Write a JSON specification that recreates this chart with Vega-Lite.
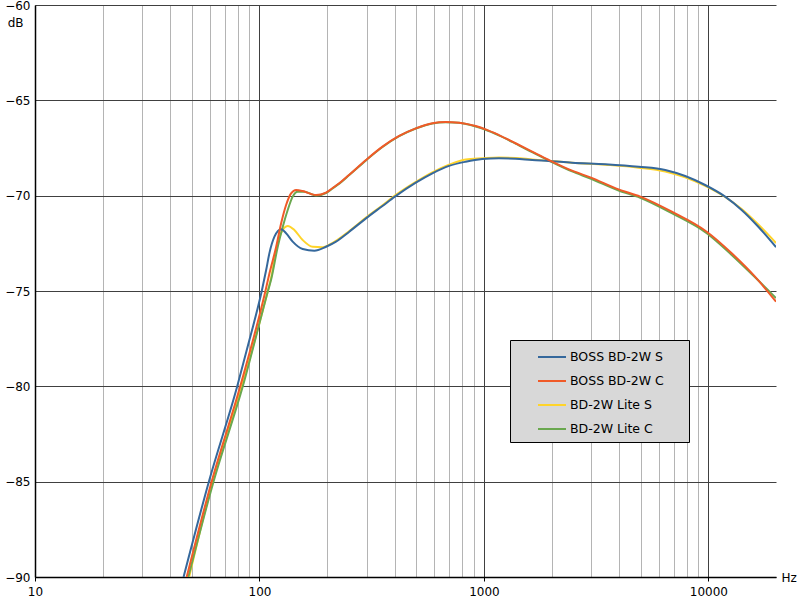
{
  "$schema": "https://vega.github.io/schema/vega-lite/v6.json",
  "width": 741,
  "height": 572,
  "autosize": {"type": "none"},
  "padding": {"left": 35, "top": 5, "right": 24, "bottom": 23},
  "background": "white",
  "config": {"view": {"stroke": null}, "font": "DejaVu Sans"},
  "datasets": {
    "curves": [
      {"series": "BD-2W Lite S", "f": 48.6, "db": -90},
      {"series": "BD-2W Lite S", "f": 61.8, "db": -85},
      {"series": "BD-2W Lite S", "f": 83.5, "db": -80},
      {"series": "BD-2W Lite S", "f": 108.9, "db": -75},
      {"series": "BD-2W Lite S", "f": 112.7, "db": -74.3},
      {"series": "BD-2W Lite S", "f": 118.7, "db": -72.85},
      {"series": "BD-2W Lite S", "f": 124.9, "db": -71.95},
      {"series": "BD-2W Lite S", "f": 133.6, "db": -71.59},
      {"series": "BD-2W Lite S", "f": 143, "db": -71.8},
      {"series": "BD-2W Lite S", "f": 155.8, "db": -72.33},
      {"series": "BD-2W Lite S", "f": 172.6, "db": -72.68},
      {"series": "BD-2W Lite S", "f": 191.1, "db": -72.7},
      {"series": "BD-2W Lite S", "f": 211.8, "db": -72.47},
      {"series": "BD-2W Lite S", "f": 251.2, "db": -71.85},
      {"series": "BD-2W Lite S", "f": 298.1, "db": -71.15},
      {"series": "BD-2W Lite S", "f": 353.2, "db": -70.5},
      {"series": "BD-2W Lite S", "f": 401.1, "db": -70.0},
      {"series": "BD-2W Lite S", "f": 497.2, "db": -69.28},
      {"series": "BD-2W Lite S", "f": 589.2, "db": -68.78},
      {"series": "BD-2W Lite S", "f": 698.9, "db": -68.38},
      {"series": "BD-2W Lite S", "f": 829, "db": -68.1},
      {"series": "BD-2W Lite S", "f": 982.7, "db": -68.04},
      {"series": "BD-2W Lite S", "f": 1166, "db": -68.0},
      {"series": "BD-2W Lite S", "f": 1383, "db": -68.02},
      {"series": "BD-2W Lite S", "f": 1639, "db": -68.1},
      {"series": "BD-2W Lite S", "f": 1945, "db": -68.17},
      {"series": "BD-2W Lite S", "f": 2469, "db": -68.27},
      {"series": "BD-2W Lite S", "f": 3475, "db": -68.38},
      {"series": "BD-2W Lite S", "f": 4887, "db": -68.53},
      {"series": "BD-2W Lite S", "f": 6422, "db": -68.73},
      {"series": "BD-2W Lite S", "f": 7877, "db": -69.04},
      {"series": "BD-2W Lite S", "f": 9667, "db": -69.49},
      {"series": "BD-2W Lite S", "f": 11866, "db": -70.07},
      {"series": "BD-2W Lite S", "f": 14060, "db": -70.7},
      {"series": "BD-2W Lite S", "f": 16681, "db": -71.51},
      {"series": "BD-2W Lite S", "f": 20000, "db": -72.48},

      {"series": "BD-2W Lite C", "f": 48.2, "db": -90},
      {"series": "BD-2W Lite C", "f": 62.4, "db": -85},
      {"series": "BD-2W Lite C", "f": 84.3, "db": -80},
      {"series": "BD-2W Lite C", "f": 109.1, "db": -75},
      {"series": "BD-2W Lite C", "f": 112.7, "db": -74.4},
      {"series": "BD-2W Lite C", "f": 120.6, "db": -72.68},
      {"series": "BD-2W Lite C", "f": 127, "db": -71.63},
      {"series": "BD-2W Lite C", "f": 133.6, "db": -70.75},
      {"series": "BD-2W Lite C", "f": 140.6, "db": -70.05},
      {"series": "BD-2W Lite C", "f": 148, "db": -69.79},
      {"series": "BD-2W Lite C", "f": 158.5, "db": -69.79},
      {"series": "BD-2W Lite C", "f": 178.6, "db": -69.99},
      {"series": "BD-2W Lite C", "f": 197.9, "db": -69.86},
      {"series": "BD-2W Lite C", "f": 211.8, "db": -69.62},
      {"series": "BD-2W Lite C", "f": 226.7, "db": -69.37},
      {"series": "BD-2W Lite C", "f": 251.2, "db": -68.92},
      {"series": "BD-2W Lite C", "f": 298.1, "db": -68.15},
      {"series": "BD-2W Lite C", "f": 353.2, "db": -67.45},
      {"series": "BD-2W Lite C", "f": 419, "db": -66.88},
      {"series": "BD-2W Lite C", "f": 497.2, "db": -66.48},
      {"series": "BD-2W Lite C", "f": 589.2, "db": -66.21},
      {"series": "BD-2W Lite C", "f": 675.8, "db": -66.15},
      {"series": "BD-2W Lite C", "f": 774.3, "db": -66.18},
      {"series": "BD-2W Lite C", "f": 918.7, "db": -66.37},
      {"series": "BD-2W Lite C", "f": 1017.6, "db": -66.54},
      {"series": "BD-2W Lite C", "f": 1166, "db": -66.84},
      {"series": "BD-2W Lite C", "f": 1383, "db": -67.27},
      {"series": "BD-2W Lite C", "f": 1639, "db": -67.72},
      {"series": "BD-2W Lite C", "f": 1945, "db": -68.16},
      {"series": "BD-2W Lite C", "f": 2469, "db": -68.73},
      {"series": "BD-2W Lite C", "f": 2980, "db": -69.1},
      {"series": "BD-2W Lite C", "f": 3981, "db": -69.73},
      {"series": "BD-2W Lite C", "f": 4971, "db": -70.11},
      {"series": "BD-2W Lite C", "f": 6869, "db": -70.92},
      {"series": "BD-2W Lite C", "f": 9827, "db": -71.97},
      {"series": "BD-2W Lite C", "f": 12696, "db": -73.11},
      {"series": "BD-2W Lite C", "f": 16129, "db": -74.28},
      {"series": "BD-2W Lite C", "f": 20000, "db": -75.37},

      {"series": "BOSS BD-2W S", "f": 45.9, "db": -90},
      {"series": "BOSS BD-2W S", "f": 59.5, "db": -85},
      {"series": "BOSS BD-2W S", "f": 79.6, "db": -80},
      {"series": "BOSS BD-2W S", "f": 90.3, "db": -77.55},
      {"series": "BOSS BD-2W S", "f": 102.6, "db": -74.95},
      {"series": "BOSS BD-2W S", "f": 107.1, "db": -73.9},
      {"series": "BOSS BD-2W S", "f": 110.8, "db": -73.0},
      {"series": "BOSS BD-2W S", "f": 116.6, "db": -72.15},
      {"series": "BOSS BD-2W S", "f": 124.9, "db": -71.76},
      {"series": "BOSS BD-2W S", "f": 131.4, "db": -71.97},
      {"series": "BOSS BD-2W S", "f": 140.6, "db": -72.41},
      {"series": "BOSS BD-2W S", "f": 155.8, "db": -72.8},
      {"series": "BOSS BD-2W S", "f": 175.6, "db": -72.89},
      {"series": "BOSS BD-2W S", "f": 197.9, "db": -72.68},
      {"series": "BOSS BD-2W S", "f": 219.3, "db": -72.41},
      {"series": "BOSS BD-2W S", "f": 251.2, "db": -71.89},
      {"series": "BOSS BD-2W S", "f": 298.1, "db": -71.19},
      {"series": "BOSS BD-2W S", "f": 353.2, "db": -70.54},
      {"series": "BOSS BD-2W S", "f": 401.1, "db": -70.05},
      {"series": "BOSS BD-2W S", "f": 497.2, "db": -69.32},
      {"series": "BOSS BD-2W S", "f": 589.2, "db": -68.83},
      {"series": "BOSS BD-2W S", "f": 698.9, "db": -68.44},
      {"series": "BOSS BD-2W S", "f": 829, "db": -68.22},
      {"series": "BOSS BD-2W S", "f": 982.7, "db": -68.08},
      {"series": "BOSS BD-2W S", "f": 1166, "db": -68.04},
      {"series": "BOSS BD-2W S", "f": 1383, "db": -68.06},
      {"series": "BOSS BD-2W S", "f": 1639, "db": -68.13},
      {"series": "BOSS BD-2W S", "f": 1945, "db": -68.18},
      {"series": "BOSS BD-2W S", "f": 2469, "db": -68.27},
      {"series": "BOSS BD-2W S", "f": 3475, "db": -68.35},
      {"series": "BOSS BD-2W S", "f": 4887, "db": -68.48},
      {"series": "BOSS BD-2W S", "f": 6422, "db": -68.65},
      {"series": "BOSS BD-2W S", "f": 7877, "db": -68.97},
      {"series": "BOSS BD-2W S", "f": 9667, "db": -69.44},
      {"series": "BOSS BD-2W S", "f": 11866, "db": -70.05},
      {"series": "BOSS BD-2W S", "f": 14060, "db": -70.75},
      {"series": "BOSS BD-2W S", "f": 16681, "db": -71.63},
      {"series": "BOSS BD-2W S", "f": 20000, "db": -72.7},

      {"series": "BOSS BD-2W C", "f": 47.4, "db": -90},
      {"series": "BOSS BD-2W C", "f": 61.2, "db": -85},
      {"series": "BOSS BD-2W C", "f": 82.1, "db": -80},
      {"series": "BOSS BD-2W C", "f": 106.3, "db": -75},
      {"series": "BOSS BD-2W C", "f": 110.8, "db": -74.07},
      {"series": "BOSS BD-2W C", "f": 118.7, "db": -72.68},
      {"series": "BOSS BD-2W C", "f": 124.9, "db": -71.45},
      {"series": "BOSS BD-2W C", "f": 131.4, "db": -70.49},
      {"series": "BOSS BD-2W C", "f": 138.3, "db": -69.88},
      {"series": "BOSS BD-2W C", "f": 145.6, "db": -69.7},
      {"series": "BOSS BD-2W C", "f": 155.8, "db": -69.76},
      {"series": "BOSS BD-2W C", "f": 169.8, "db": -69.91},
      {"series": "BOSS BD-2W C", "f": 178.6, "db": -69.97},
      {"series": "BOSS BD-2W C", "f": 197.9, "db": -69.84},
      {"series": "BOSS BD-2W C", "f": 211.8, "db": -69.6},
      {"series": "BOSS BD-2W C", "f": 226.7, "db": -69.35},
      {"series": "BOSS BD-2W C", "f": 251.2, "db": -68.9},
      {"series": "BOSS BD-2W C", "f": 298.1, "db": -68.13},
      {"series": "BOSS BD-2W C", "f": 353.2, "db": -67.43},
      {"series": "BOSS BD-2W C", "f": 419, "db": -66.87},
      {"series": "BOSS BD-2W C", "f": 497.2, "db": -66.47},
      {"series": "BOSS BD-2W C", "f": 589.2, "db": -66.2},
      {"series": "BOSS BD-2W C", "f": 675.8, "db": -66.14},
      {"series": "BOSS BD-2W C", "f": 774.3, "db": -66.17},
      {"series": "BOSS BD-2W C", "f": 918.7, "db": -66.35},
      {"series": "BOSS BD-2W C", "f": 1017.6, "db": -66.52},
      {"series": "BOSS BD-2W C", "f": 1166, "db": -66.82},
      {"series": "BOSS BD-2W C", "f": 1383, "db": -67.25},
      {"series": "BOSS BD-2W C", "f": 1639, "db": -67.69},
      {"series": "BOSS BD-2W C", "f": 1945, "db": -68.13},
      {"series": "BOSS BD-2W C", "f": 2469, "db": -68.69},
      {"series": "BOSS BD-2W C", "f": 2980, "db": -69.04},
      {"series": "BOSS BD-2W C", "f": 3981, "db": -69.67},
      {"series": "BOSS BD-2W C", "f": 4971, "db": -70.05},
      {"series": "BOSS BD-2W C", "f": 6869, "db": -70.84},
      {"series": "BOSS BD-2W C", "f": 9827, "db": -71.89},
      {"series": "BOSS BD-2W C", "f": 12696, "db": -73.02},
      {"series": "BOSS BD-2W C", "f": 16129, "db": -74.25},
      {"series": "BOSS BD-2W C", "f": 20000, "db": -75.56}
    ]
  },
  "data": {"name": "curves"},
  "mark": {"type": "line", "strokeWidth": 2, "clip": true, "interpolate": "monotone"},
  "encoding": {
    "x": {
      "field": "f",
      "type": "quantitative",
      "scale": {"type": "log", "domain": [10, 20000], "nice": false},
      "axis": {
        "title": "Hz",
        "titleX": 746,
        "titleY": 0,
        "titleAlign": "left",
        "titleBaseline": "middle",
        "titleFontWeight": "normal",
        "titleFontSize": 12,
        "titleColor": "#000000",
        "values": [10, 20, 30, 40, 50, 60, 70, 80, 90, 100, 200, 300, 400, 500, 600, 700, 800, 900, 1000, 2000, 3000, 4000, 5000, 6000, 7000, 8000, 9000, 10000],
        "grid": true,
        "gridColor": {"condition": {"test": "indexof([10,100,1000,10000], datum.value) >= 0", "value": "#404040"}, "value": "#b4b4b4"},
        "gridOpacity": 1,
        "gridWidth": 1,
        "domainColor": "#000000",
        "domainWidth": 1.5,
        "ticks": true,
        "tickColor": "#000000",
        "tickSize": 4,
        "tickOpacity": {"condition": {"test": "indexof([10,100,1000,10000], datum.value) >= 0", "value": 1}, "value": 0},
        "labelExpr": "indexof([10,100,1000,10000], datum.value) >= 0 ? format(datum.value, 'd') : ''",
        "labelFontSize": 12,
        "labelColor": "#000000",
        "labelPadding": 5,
        "labelFlush": false,
        "labelOverlap": false,
        "labelBound": false
      }
    },
    "y": {
      "field": "db",
      "type": "quantitative",
      "scale": {"domain": [-90, -60], "nice": false, "zero": false},
      "axis": {
        "title": "dB",
        "titleAngle": 0,
        "titleX": -12,
        "titleY": 17,
        "titleAlign": "right",
        "titleBaseline": "middle",
        "titleFontWeight": "normal",
        "titleFontSize": 12,
        "titleColor": "#000000",
        "values": [-90, -85, -80, -75, -70, -65, -60],
        "grid": true,
        "gridColor": "#404040",
        "gridOpacity": 1,
        "gridWidth": 1,
        "domainColor": "#000000",
        "domainWidth": 1.5,
        "ticks": false,
        "labelPadding": 5,
        "labelFontSize": 12,
        "labelColor": "#000000",
        "labelFlush": false,
        "labelOverlap": false,
        "labelBound": false
      }
    },
    "color": {
      "field": "series",
      "type": "nominal",
      "scale": {
        "domain": ["BOSS BD-2W S", "BOSS BD-2W C", "BD-2W Lite S", "BD-2W Lite C"],
        "range": ["#35689c", "#f05a28", "#ffd42a", "#6aa84f"]
      },
      "legend": {
        "title": null,
        "orient": "none",
        "legendX": 475,
        "legendY": 335,
        "direction": "vertical",
        "fillColor": "#d8d8d8",
        "strokeColor": "#000000",
        "padding": 6,
        "symbolType": "M-1.4,0H1.4",
        "symbolSize": 400,
        "symbolStrokeWidth": 2,
        "symbolOffset": 25,
        "labelOffset": 7,
        "labelFont": "DejaVu Sans",
        "labelFontSize": 12.5,
        "labelColor": "#000000",
        "labelLimit": 300,
        "rowPadding": 6,
        "labelExpr": "datum.label + '\u2800\u2800'"
      }
    }
  }
}
